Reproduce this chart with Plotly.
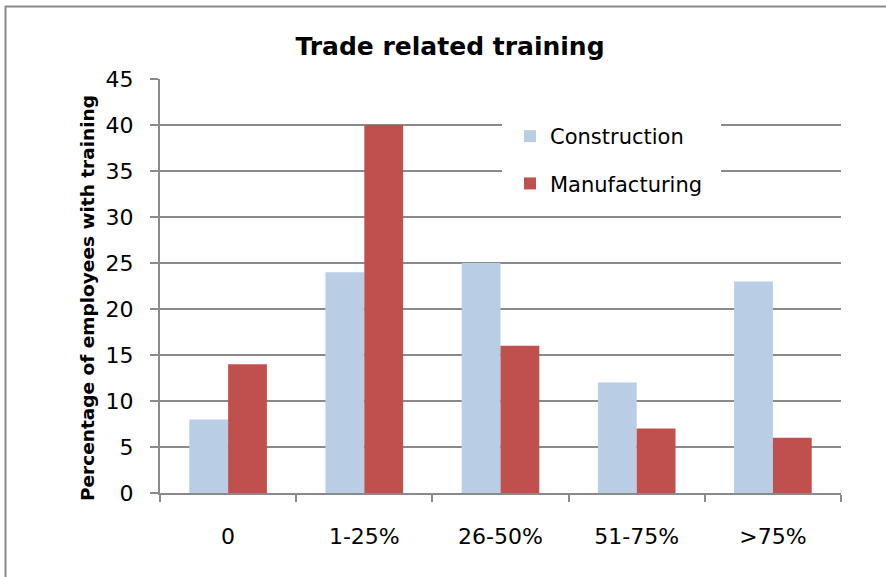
import plotly.graph_objects as go

categories = ["0", "1-25%", "26-50%", "51-75%", ">75%"]
construction = [8, 24, 25, 12, 23]
manufacturing = [14, 40, 16, 7, 6]
y_ticks = [0, 5, 10, 15, 20, 25, 30, 35, 40, 45]

W, H = 886, 577
L, R, T, B = 160, 841, 79, 493
pw, ph = R - L, B - T

def px(x):
    return (x - L) / pw

def py(y):
    return (B - y) / ph

FF = "DejaVu Sans, sans-serif"
GRID = "#8A8A8A"

fig = go.Figure()
fig.add_trace(go.Bar(name="Construction", x=categories, y=construction,
                     marker=dict(color="#B9CDE5", line=dict(width=0)), legendgroup="a"))
fig.add_trace(go.Bar(name="Manufacturing", x=categories, y=manufacturing,
                     marker=dict(color="#C0504D", line=dict(width=0)), legendgroup="b"))

fig.update_layout(
    width=W, height=H,
    margin=dict(l=L, r=W - R, t=T, b=H - B),
    paper_bgcolor="white", plot_bgcolor="white",
    barmode="group", bargap=0.43, bargroupgap=0,
    font=dict(family=FF, size=21, color="black"),
    title=dict(text="<b>Trade related training</b>", x=450 / W, xref="container", xanchor="center",
               y=1 - 46 / H, yref="container", yanchor="middle",
               font=dict(size=25, family=FF, color="black")),
    showlegend=True,
    legend=dict(x=px(510), y=py(116), xanchor="left", yanchor="top",
                bgcolor="rgba(0,0,0,0)", borderwidth=0, tracegroupgap=17,
                font=dict(size=21, family=FF, color="black"),
                itemwidth=30),
    xaxis=dict(showgrid=False, showline=True, linecolor=GRID, linewidth=2,
               ticks="outside", ticklen=7, tickcolor=GRID, tickwidth=2,
               tickson="boundaries", ticklabelstandoff=23,
               tickfont=dict(size=22, family=FF, color="black")),
    yaxis=dict(range=[0, 45], tickvals=y_ticks, showgrid=True, gridcolor=GRID, gridwidth=2,
               showline=True, linecolor=GRID, linewidth=2,
               ticks="outside", ticklen=8, tickcolor=GRID, tickwidth=2,
               ticklabelstandoff=12, zeroline=False,
               tickfont=dict(size=22, family=FF, color="black")),
)

# y-axis title placed as rotated text
fig.add_annotation(text="<b>Percentage of employees with training</b>", textangle=-90,
                   xref="paper", yref="paper", x=px(87), y=py(298),
                   xanchor="center", yanchor="middle", showarrow=False,
                   font=dict(size=18.5, family=FF, color="black"))

# white panel behind the legend hiding gridlines
fig.add_shape(type="rect", xref="paper", yref="paper",
              x0=px(502), x1=px(721), y0=py(205), y1=py(100),
              line=dict(width=0), fillcolor="white", layer="above")

# outer chart border (left and top edges visible)
fig.add_shape(type="line", xref="paper", yref="paper",
              x0=px(5.5), x1=px(5.5), y0=py(580), y1=py(6),
              line=dict(color=GRID, width=2))
fig.add_shape(type="line", xref="paper", yref="paper",
              x0=px(5), x1=px(890), y0=py(6.5), y1=py(6.5),
              line=dict(color=GRID, width=2))

fig.write_html("out.html", config={"displayModeBar": False})

with open("out.html", "r", encoding="utf-8") as f:
    html = f.read()
html = html.replace("<body>", '<body style="margin:0;padding:0;">', 1)
with open("out.html", "w", encoding="utf-8") as f:
    f.write(html)
